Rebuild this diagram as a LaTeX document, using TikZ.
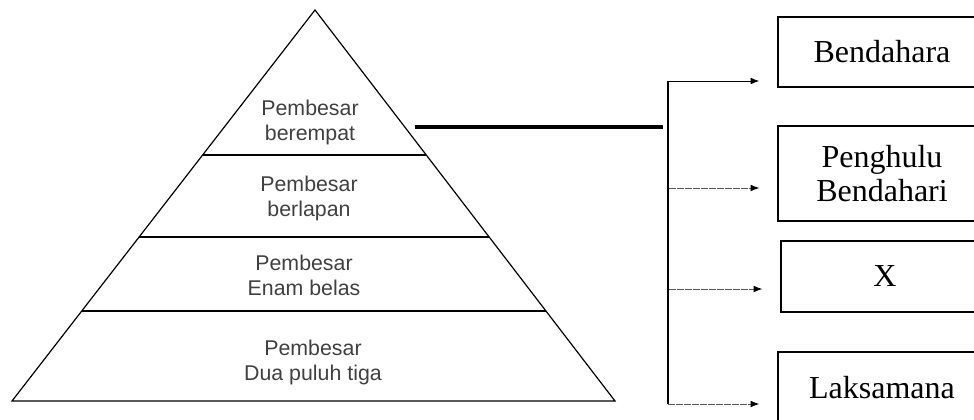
\documentclass[tikz,border=0pt]{standalone}
\usepackage{fontspec}
\setmainfont{Liberation Serif}
\newfontfamily\pyrfont{Liberation Sans}
\usetikzlibrary{arrows.meta}

\begin{document}
\begin{tikzpicture}[x=0.75pt,y=-0.75pt,
    layer/.style={font=\pyrfont\fontsize{16}{18.75}\selectfont, text=black!75, align=center},
    office/.style={draw=black, line width=1.1pt, font=\fontsize{24}{26}\selectfont, align=center, minimum width=156pt, inner sep=0pt},
    link/.style={line width=0.6pt, -{Latex[length=6.5pt,width=5pt,color=black]}, shorten >=13.5pt},
    faint/.style={draw=black!65, dash pattern=on 5pt off 1pt}]
    \useasboundingbox (0,0) rectangle (974,419);
    \clip (0,0) rectangle (974,419);

    % piramid
    \draw[line width=0.9pt] (315,10) -- (615,401) -- (12,401) -- cycle;
    \draw[line width=0.9pt] (203,155) -- (426,155);
    \draw[line width=0.9pt] (139,237) -- (489,237);
    \draw[line width=0.9pt] (82,311) -- (546,311);

    \node[layer] (l1) at (310,122.5) {Pembesar\\berempat};
    \node[layer] (l2) at (309,198.5) {Pembesar\\berlapan};
    \node[layer] (l3) at (304,275.5) {Pembesar\\Enam belas};
    \node[layer] (l4) at (313,362) {Pembesar\\Dua puluh tiga};

    % pembesar berempat
    \node[office, minimum height=52.5pt] (ben) at (882,52) {Bendahara};
    \node[office, minimum height=71.25pt] (pen) at (882,173.5) {Penghulu\\Bendahari};
    \node[office, minimum height=53.25pt] (x) at (885,276.5) {X};
    \node[office, minimum height=53.25pt] (lak) at (882,387.5) {Laksamana};

    \coordinate (top) at (415,127);
    \coordinate (t0) at (663,127);
    \draw[line width=2.8pt] (top) -- (t0);

    \coordinate (t1) at (668,81);
    \coordinate (t2) at (669,188);
    \coordinate (t3) at (669,289);
    \coordinate (t4) at (668,404);
    \draw[line width=0.9pt] (t1) -- (t4);

    \draw[link] (t1) -- (t1 -| ben.west);
    \draw[link, faint] (t2) -- (t2 -| pen.west);
    \draw[link, faint] (t3) -- (t3 -| x.west);
    \draw[link, faint] (t4) -- (t4 -| lak.west);

\end{tikzpicture}
\end{document}
